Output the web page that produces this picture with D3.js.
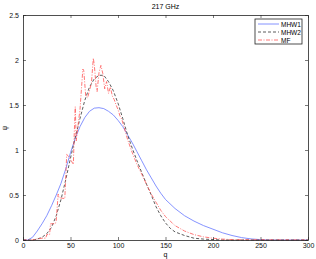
<!DOCTYPE html>
<html>
<head>
<meta charset="utf-8">
<script src="https://cdn.jsdelivr.net/npm/d3@7"></script>
<style>
  body { margin: 0; background: #fff; }
  text { font-family: "Liberation Sans", Arial, sans-serif; }
</style>
</head>
<body>
<script>
// Chart dimension
const width = 316;
const height = 259;
const margin = {top: 15, right: 8, bottom: 19, left: 23};

// Data
const xTicks = [0, 50, 100, 150, 200, 250, 300];
const yTicks = [0, 0.5, 1, 1.5, 2, 2.5];
const seriesNames = ["MHW1", "MHW2", "MF"];

const qMhw1 = [0, 5, 10, 15, 20, 25, 30, 35, 40, 45, 50, 55, 60, 65, 70, 75, 80, 85, 90, 95, 100, 105, 110, 115, 120, 125, 130, 135, 140, 145, 150, 160, 170, 180, 190, 200, 210, 220, 230, 240, 250, 260, 300];
const vMhw1 = [0, 0, 0.03, 0.1, 0.18, 0.27, 0.38, 0.5, 0.63, 0.79, 0.97, 1.13, 1.26, 1.36, 1.43, 1.465, 1.47, 1.46, 1.43, 1.39, 1.33, 1.26, 1.17, 1.08, 0.98, 0.88, 0.78, 0.69, 0.6, 0.52, 0.45, 0.35, 0.27, 0.21, 0.16, 0.12, 0.08, 0.05, 0.027, 0.012, 0.004, 0, 0];

const qMhw2 = [0, 10, 15, 20, 25, 30, 35, 40, 45, 50, 55, 60, 65, 70, 75, 80, 85, 90, 95, 100, 105, 110, 115, 120, 125, 130, 135, 140, 145, 150, 155, 160, 170, 180, 190, 200, 210, 300];
const vMhw2 = [0, 0, 0.01, 0.03, 0.07, 0.14, 0.27, 0.45, 0.67, 0.91, 1.14, 1.35, 1.55, 1.7, 1.79, 1.83, 1.83, 1.76, 1.66, 1.52, 1.35, 1.17, 1.02, 0.88, 0.75, 0.62, 0.5, 0.37, 0.27, 0.19, 0.13, 0.09, 0.05, 0.02, 0.01, 0.005, 0, 0];

const qMf = [0, 10, 14, 20, 24, 25, 28, 29, 34, 35, 37, 38, 44, 45, 46, 48, 53, 54, 55, 56, 58, 60, 63, 64, 66, 68, 72, 74, 75, 77, 78, 80, 82, 84, 86, 88, 90, 92, 94, 96, 98, 100, 102, 104, 106, 110, 115, 120, 125, 130, 135, 140, 145, 150, 155, 160, 170, 180, 190, 200, 210, 220, 300];
const vMf = [0, 0, 0.01, 0.02, 0.02, 0.06, 0.06, 0.18, 0.18, 0.22, 0.51, 0.47, 0.46, 0.7, 0.95, 0.93, 0.84, 1.2, 1.48, 1.1, 1.28, 1.45, 1.9, 1.88, 1.6, 1.58, 1.74, 2.02, 1.95, 1.7, 1.65, 1.86, 1.94, 1.85, 1.68, 1.76, 1.63, 1.7, 1.6, 1.56, 1.5, 1.45, 1.38, 1.34, 1.27, 1.12, 0.97, 0.84, 0.73, 0.62, 0.51, 0.42, 0.33, 0.26, 0.21, 0.16, 0.1, 0.06, 0.035, 0.02, 0.01, 0.004, 0];

const series = [
    {name: "MHW1", q: qMhw1, v: vMhw1, color: "#6677ff", dash: null},
    {name: "MHW2", q: qMhw2, v: vMhw2, color: "#333333", dash: "3,2"},
    {name: "MF", q: qMf, v: vMf, color: "#ff5555", dash: "4,1.5,1,1.5"}
];

const svg = d3.select("body")
    .append("svg")
    .attr("width", width)
    .attr("height", height);

// Scales
const x = d3.scaleLinear()
    .domain([0, 300])
    .range([margin.left, width - margin.right]);

const y = d3.scaleLinear()
    .domain([0, 2.5])
    .range([height - margin.bottom, margin.top]);

// Lines
const line = d3.line()
    .x(d => x(d[0]))
    .y(d => y(d[1]));

svg.selectAll(".series")
    .data(series)
    .enter()
    .append("path")
    .attr("class", "series")
    .attr("d", s => line(s.q.map((q, i) => [q, s.v[i]])))
    .attr("fill", "none")
    .attr("stroke", s => s.color)
    .attr("stroke-width", 0.8)
    .attr("stroke-dasharray", s => s.dash);

// Axes, ticks inside on all sides
const tickLen = 3;
const axisFont = "7px";

const xBottom = svg.append("g")
    .attr("transform", `translate(0, ${height - margin.bottom})`)
    .call(d3.axisBottom(x).tickValues(xTicks).tickSizeInner(-tickLen).tickSizeOuter(0).tickPadding(3));
const xTop = svg.append("g")
    .attr("transform", `translate(0, ${margin.top})`)
    .call(d3.axisTop(x).tickValues(xTicks).tickSizeInner(-tickLen).tickSizeOuter(0).tickFormat(""));
const yLeft = svg.append("g")
    .attr("transform", `translate(${margin.left}, 0)`)
    .call(d3.axisLeft(y).tickValues(yTicks).tickSizeInner(-tickLen).tickSizeOuter(0).tickPadding(4).tickFormat(d3.format("")));
const yRight = svg.append("g")
    .attr("transform", `translate(${width - margin.right}, 0)`)
    .call(d3.axisRight(y).tickValues(yTicks).tickSizeInner(-tickLen).tickSizeOuter(0).tickFormat(""));

[xBottom, xTop, yLeft, yRight].forEach(g => {
    g.select(".domain").attr("stroke", "#222").attr("stroke-width", 0.8);
    g.selectAll(".tick line").attr("stroke", "#222").attr("stroke-width", 0.6);
    g.selectAll(".tick text").style("font-size", axisFont).attr("fill", "#111");
});

// Title
svg.append("text")
    .attr("x", (margin.left + width - margin.right) / 2)
    .attr("y", 9)
    .attr("text-anchor", "middle")
    .style("font-size", "7px")
    .text("217 GHz");

// x-axis label
svg.append("text")
    .attr("x", (margin.left + width - margin.right) / 2)
    .attr("y", 257)
    .attr("text-anchor", "middle")
    .style("font-size", "7px")
    .text("q");

// y-axis label
svg.append("text")
    .attr("transform", "rotate(-90)")
    .attr("x", -128)
    .attr("y", 7)
    .attr("text-anchor", "middle")
    .style("font-size", "7px")
    .text("ψ");

// Legend
const legend = svg.append("g").attr("transform", "translate(255, 19)");
legend.append("rect")
    .attr("width", 47)
    .attr("height", 25)
    .attr("fill", "#fff")
    .attr("stroke", "#222")
    .attr("stroke-width", 0.8);

const rows = legend.selectAll(".row")
    .data(series)
    .enter()
    .append("g")
    .attr("class", "row")
    .attr("transform", (d, i) => `translate(0, ${5 + i * 8})`);

rows.append("line")
    .attr("x1", 3)
    .attr("x2", 24)
    .attr("stroke", d => d.color)
    .attr("stroke-width", 0.8)
    .attr("stroke-dasharray", d => d.dash);

rows.append("text")
    .attr("x", 26)
    .attr("y", 2.5)
    .style("font-size", "6.5px")
    .text((d, i) => seriesNames[i]);
</script>
</body>
</html>
